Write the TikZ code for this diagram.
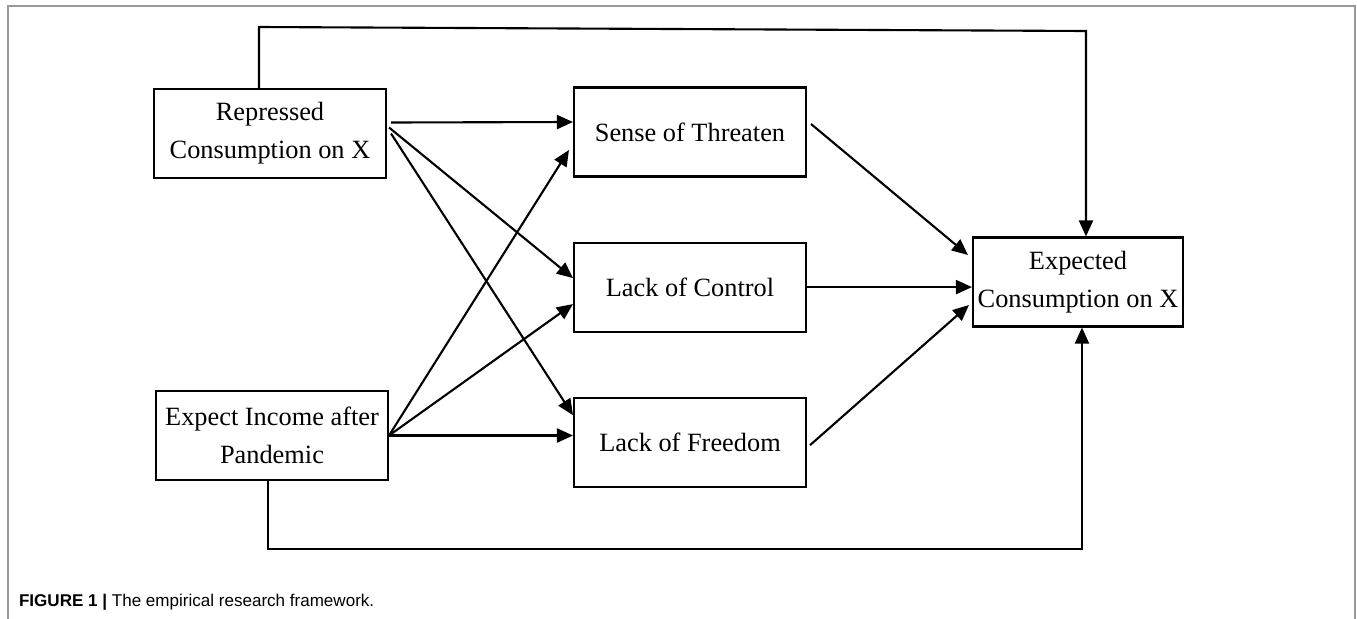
\documentclass[tikz,border=0pt]{standalone}
\usepackage{fontspec}
\setmainfont{Liberation Serif}
\newfontfamily\captionfont{Liberation Sans}
\usetikzlibrary{positioning, arrows.meta, calc}

\begin{document}
\begin{tikzpicture}[x=0.02cm, y=-0.02cm, node distance=1.28cm, line width=1.2pt,
    >={Triangle[length=0.32cm, width=0.28cm]}]
    \tikzset{style={font=\fontsize{15}{21.6}\selectfont}}
    \tikzset{varbox/.style={draw, minimum width=4.64cm, minimum height=1.78cm, align=center, inner sep=0pt}}
    \useasboundingbox (0,0) rectangle (1357,619);
    \draw[gray!80, line width=0.9pt] (8,619) -- (8,6) -- (1355,6) -- (1355,619);

    \node[varbox]                       (repressed) at (270,133.5) {Repressed\\Consumption on X};
    \node[varbox]                       (income)    at (272,435.5) {Expect Income after\\Pandemic};
    \node[varbox]                       (threaten)  at (690,132)   {Sense of Threaten};
    \node[varbox, below=of threaten]    (control)   {Lack of Control};
    \node[varbox, below=of control]     (freedom)   {Lack of Freedom};
    \node[varbox, minimum width=4.2cm]  (expected)  at (1078,282)  {Expected\\Consumption on X};

    \draw[->] ($(repressed.east)+(4,-11)$) -- ($(threaten.west)+(0,-10)$);
    \draw[->] ($(repressed.east)+(2,-6)$) -- ($(control.west)+(0,-9)$);
    \draw[->] ($(repressed.east)+(4,0)$) -- ($(freedom.west)+(0,-27)$);
    \draw[->] (income.east) -- ($(threaten.west)+(-4,18)$);
    \draw[->] (income.east) -- ($(control.west)+(0,17)$);
    \draw[->] (income.east) -- (income.east -| freedom.west);
    \draw[->] ($(threaten.east)+(4,-8)$) -- ($(expected.west)+(-4,-27)$);
    \draw[->] (control.east) -- (control.east -| expected.west);
    \draw[->] ($(freedom.east)+(3,3)$) -- ($(expected.west)+(-3,23)$);

    \coordinate (topleft)     at (259,27);
    \coordinate (topright)    at (1086,31);
    \draw[->] (repressed.north -| topleft) -- (topleft) -- (topright) -- (topright |- expected.north);
    \coordinate (bottomleft)  at (268,549);
    \coordinate (bottomright) at (1082,549);
    \draw[->] (income.south -| bottomleft) -- (bottomleft) -- (bottomright) -- (bottomright |- expected.south);

    \node[anchor=base west, inner sep=0pt, font=\captionfont\fontsize{9.7}{11}\selectfont] (caption) at (18,606)
        {\textbf{FIGURE 1 |} The empirical research framework.};
\end{tikzpicture}
\end{document}
